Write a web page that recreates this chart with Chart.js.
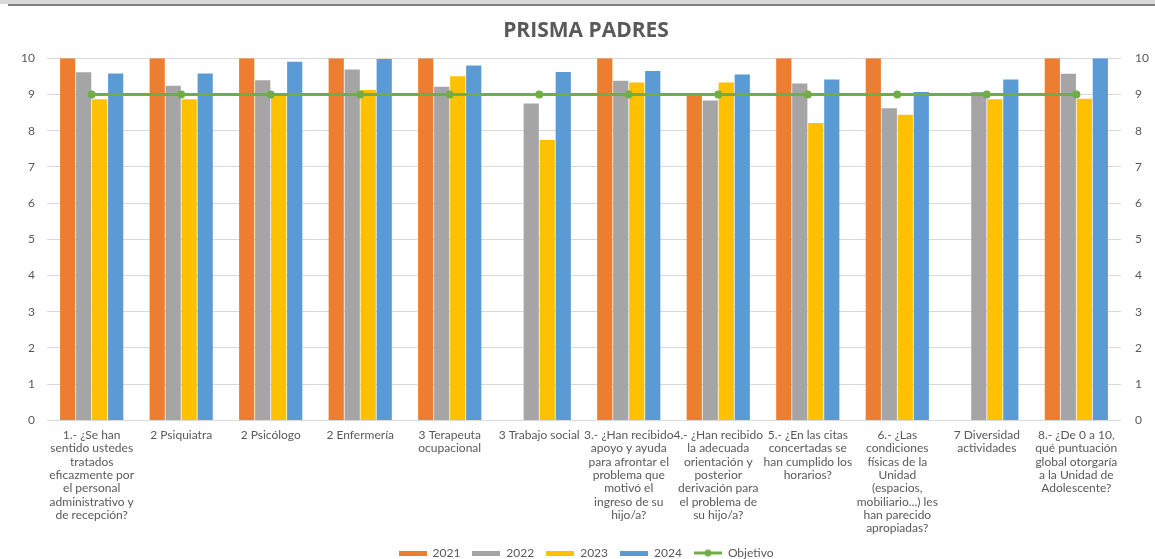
<!DOCTYPE html>
<html><head><meta charset="utf-8">
<script src="https://cdn.jsdelivr.net/npm/chart.js@4/dist/chart.umd.min.js"></script>
<style>
html,body{margin:0;padding:0;background:#fff;overflow:hidden}
#wrap{position:relative;width:1155px;height:559px}
#topband{position:absolute;left:0;top:0;width:1155px;height:4px;background:#d9d9d9}
#topline{position:absolute;left:8px;top:4px;width:1147px;height:2px;background:#7f7f7f}
canvas{position:absolute;left:0;top:0}
</style></head>
<body><div id="wrap"><canvas id="c" width="1155" height="559"></canvas><div id="topband"></div><div id="topline"></div></div>
<script>
const categories = [
  ["1.- ¿Se han","sentido ustedes","tratados","eficazmente por","el personal","administrativo y","de recepción?"],
  "2 Psiquiatra",
  "2 Psicólogo",
  "2 Enfermería",
  ["3 Terapeuta","ocupacional"],
  "3 Trabajo social",
  ["3.- ¿Han recibido","apoyo y ayuda","para afrontar el","problema que","motivó el","ingreso de su","hijo/a?"],
  ["4.- ¿Han recibido","la adecuada","orientación y","posterior","derivación para","el problema de","su hijo/a?"],
  ["5.- ¿En las citas","concertadas se","han cumplido los","horarios?"],
  ["6.- ¿Las","condiciones","físicas de la","Unidad","(espacios,","mobiliario...) les","han parecido","apropiadas?"],
  ["7 Diversidad","actividades"],
  ["8.- ¿De 0 a 10,","qué puntuación","global otorgaría","a la Unidad de","Adolescente?"]
];
const values2021 = [10, 10, 10, 10, 10, null, 10, 9.0, 10, 10, null, 10];
const values2022 = [9.61, 9.24, 9.39, 9.69, 9.21, 8.75, 9.38, 8.83, 9.30, 8.62, 9.07, 9.57];
const values2023 = [8.87, 8.87, 9.0, 9.12, 9.50, 7.74, 9.33, 9.33, 8.21, 8.44, 8.87, 8.88];
const values2024 = [9.58, 9.58, 9.90, 9.98, 9.80, 9.62, 9.65, 9.55, 9.41, 9.07, 9.41, 10];
const objetivo = [9, 9, 9, 9, 9, 9, 9, 9, 9, 9, 9, 9];
const yTicks = [0,1,2,3,4,5,6,7,8,9,10];

function boxImg(color){
  const c=document.createElement('canvas');c.width=28;c.height=5;
  const x=c.getContext('2d');x.fillStyle=color;x.fillRect(0,0,28,5);return c;
}
function lineImg(color){
  const c=document.createElement('canvas');c.width=28;c.height=9;
  const x=c.getContext('2d');x.strokeStyle=color;x.lineWidth=3;
  x.beginPath();x.moveTo(0,4.5);x.lineTo(28,4.5);x.stroke();
  x.fillStyle=color;x.beginPath();x.arc(14,4.5,3.5,0,Math.PI*2);x.fill();return c;
}
const gray='#595959';
const barOpts={categoryPercentage:0.715,barPercentage:0.95,order:1};
new Chart(document.getElementById('c'),{
  data:{labels:categories,datasets:[
    {type:'bar',label:'2021',data:values2021,backgroundColor:'#ED7D31',pointStyle:boxImg('#ED7D31'),...barOpts},
    {type:'bar',label:'2022',data:values2022,backgroundColor:'#A5A5A5',pointStyle:boxImg('#A5A5A5'),...barOpts},
    {type:'bar',label:'2023',data:values2023,backgroundColor:'#FFC000',pointStyle:boxImg('#FFC000'),...barOpts},
    {type:'bar',label:'2024',data:values2024,backgroundColor:'#5B9BD5',pointStyle:boxImg('#5B9BD5'),...barOpts},
    {type:'line',label:'Objetivo',data:objetivo,borderColor:'#70AD47',backgroundColor:'#70AD47',borderWidth:3,
      pointRadius:4,pointHoverRadius:4,pointBackgroundColor:'#70AD47',pointBorderWidth:0,pointStyle:'circle',
      legendStyle:lineImg('#70AD47'),order:0}
  ]},
  options:{
    responsive:false,animation:false,
    layout:{padding:{left:9,right:-8,top:8,bottom:-10}},
    plugins:{
      title:{display:true,text:'PRISMA PADRES',color:gray,font:{family:'Open Sans',size:21,weight:'bold'},padding:{top:10,bottom:15}},
      legend:{position:'bottom',labels:{usePointStyle:true,pointStyleWidth:28,color:gray,font:{family:'Lato',size:12},padding:12,
        sort:(a,b)=>a.datasetIndex-b.datasetIndex,
        generateLabels:(chart)=>{
          const items=Chart.defaults.plugins.legend.labels.generateLabels(chart);
          items.forEach(it=>{const ds=chart.data.datasets[it.datasetIndex];it.pointStyle=ds.legendStyle||ds.pointStyle;});
          return items;
        }}},
      tooltip:{enabled:false}
    },
    scales:{
      x:{grid:{display:false},border:{display:false},
        ticks:{autoSkip:false,maxRotation:0,minRotation:0,color:gray,font:{family:'Lato',size:12,lineHeight:1.11},padding:0}},
      y:{position:'left',min:0,max:10,afterBuildTicks:(a)=>{a.ticks=yTicks.map(v=>({value:v}));},
        grid:{color:'#d9d9d9',drawTicks:false},border:{display:false},
        ticks:{color:gray,font:{family:'Lato',size:12},padding:12}},
      y2:{position:'right',min:0,max:10,afterBuildTicks:(a)=>{a.ticks=yTicks.map(v=>({value:v}));},
        grid:{display:false,drawTicks:false},border:{display:false},
        ticks:{color:gray,font:{family:'Lato',size:12},padding:14}}
    }
  }
});
</script></body></html>
